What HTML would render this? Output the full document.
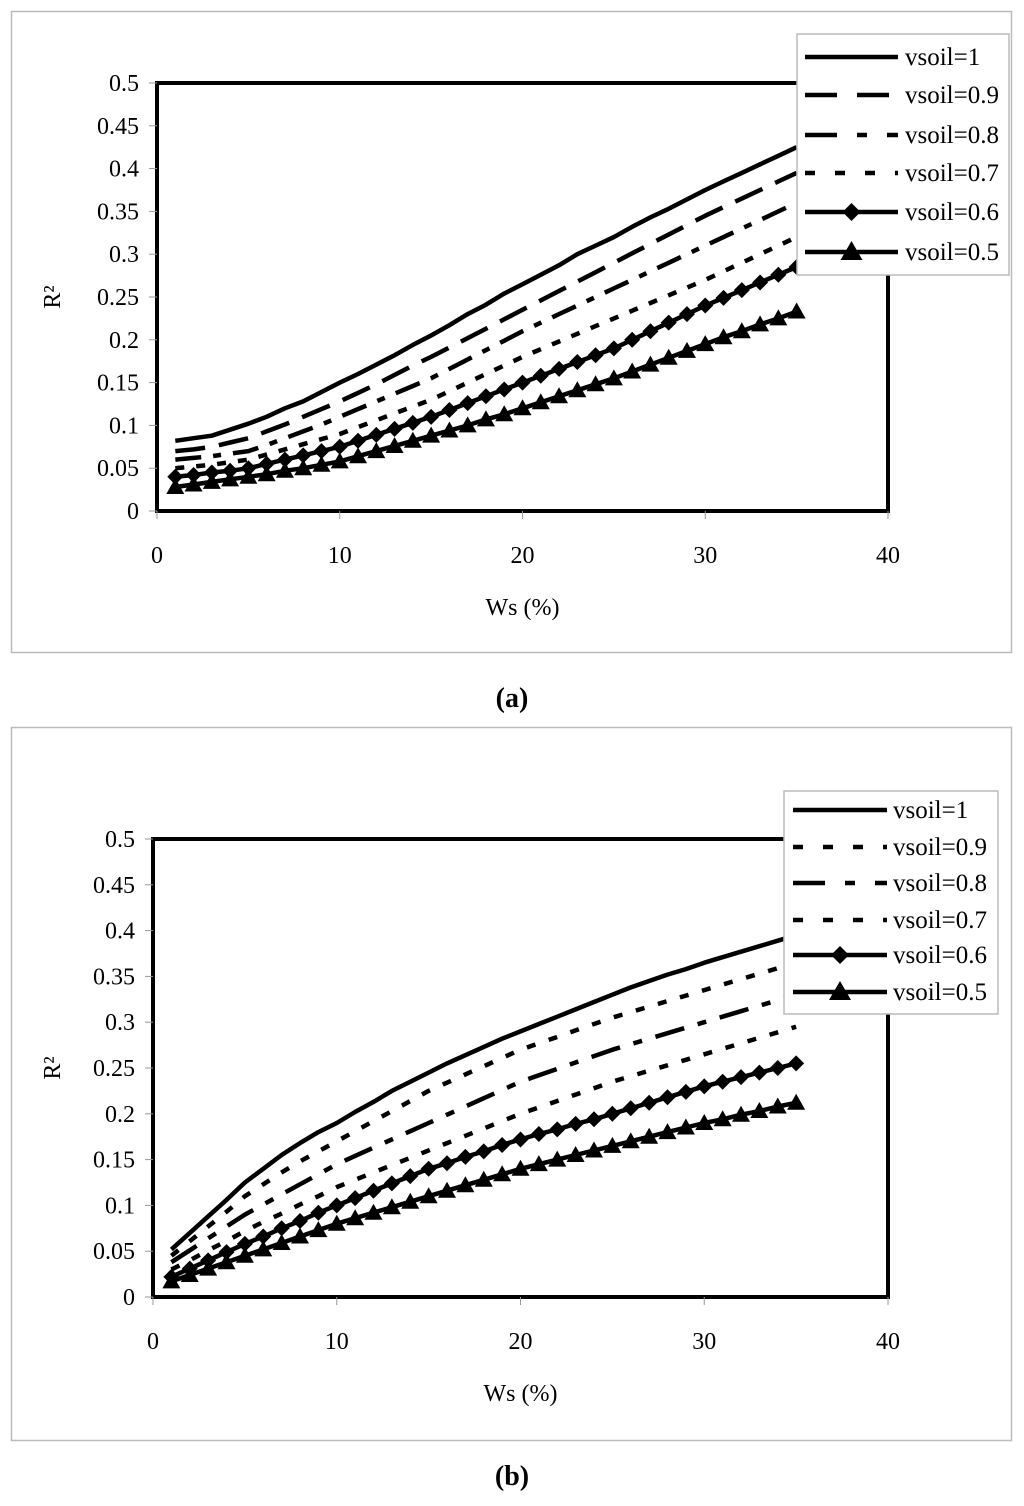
<!DOCTYPE html>
<html><head><meta charset="utf-8"><style>
body{margin:0;background:#fff;width:1024px;height:1506px;overflow:hidden}
svg{display:block;font-family:"Liberation Serif",serif}
</style></head><body>
<svg id="s" width="1024" height="1506" xmlns="http://www.w3.org/2000/svg"></svg>
<script>
const xs=[1,2,3,4,5,6,7,8,9,10,11,12,13,14,15,16,17,18,19,20,21,22,23,24,25,26,27,28,29,30,31,32,33,34,35];
const seriesNames=["vsoil=1","vsoil=0.9","vsoil=0.8","vsoil=0.7","vsoil=0.6","vsoil=0.5"];
const xTicks=[0,10,20,30,40];
const yTicks=[0,0.05,0.1,0.15,0.2,0.25,0.3,0.35,0.4,0.45,0.5];
const yTickLabels=["0","0.05","0.1","0.15","0.2","0.25","0.3","0.35","0.4","0.45","0.5"];
const a1=[0.082,0.085,0.088,0.095,0.102,0.11,0.12,0.128,0.139,0.15,0.16,0.171,0.182,0.194,0.205,0.217,0.23,0.241,0.254,0.265,0.276,0.287,0.3,0.31,0.32,0.332,0.343,0.353,0.364,0.375,0.385,0.395,0.405,0.415,0.425];
const a2=[0.07,0.072,0.075,0.08,0.085,0.093,0.101,0.11,0.119,0.128,0.138,0.148,0.159,0.17,0.18,0.191,0.202,0.213,0.224,0.235,0.246,0.257,0.268,0.279,0.29,0.301,0.312,0.323,0.334,0.345,0.355,0.365,0.375,0.385,0.395];
const a3=[0.06,0.062,0.064,0.067,0.07,0.077,0.085,0.093,0.101,0.11,0.119,0.128,0.137,0.146,0.155,0.166,0.177,0.188,0.199,0.21,0.22,0.23,0.24,0.25,0.26,0.27,0.28,0.29,0.3,0.31,0.32,0.33,0.34,0.35,0.36];
const a4=[0.05,0.052,0.054,0.057,0.06,0.066,0.072,0.078,0.084,0.09,0.098,0.106,0.114,0.122,0.13,0.14,0.15,0.16,0.17,0.18,0.189,0.198,0.207,0.216,0.225,0.234,0.243,0.252,0.261,0.27,0.28,0.29,0.3,0.31,0.32];
const a5=[0.04,0.042,0.045,0.047,0.05,0.055,0.06,0.065,0.07,0.075,0.082,0.089,0.096,0.103,0.11,0.118,0.126,0.134,0.142,0.15,0.158,0.166,0.174,0.182,0.19,0.2,0.21,0.22,0.23,0.24,0.249,0.258,0.267,0.276,0.285];
const a6=[0.028,0.031,0.034,0.037,0.04,0.043,0.047,0.05,0.054,0.058,0.064,0.07,0.076,0.082,0.088,0.094,0.1,0.107,0.113,0.12,0.127,0.134,0.141,0.148,0.155,0.163,0.171,0.179,0.187,0.195,0.203,0.21,0.218,0.225,0.233];
const b1=[0.052,0.07,0.088,0.106,0.125,0.14,0.155,0.168,0.18,0.19,0.202,0.213,0.225,0.235,0.245,0.255,0.264,0.273,0.282,0.29,0.298,0.306,0.314,0.322,0.33,0.338,0.345,0.352,0.358,0.365,0.371,0.377,0.383,0.389,0.395];
const b2=[0.045,0.061,0.077,0.093,0.11,0.123,0.136,0.148,0.159,0.17,0.181,0.192,0.203,0.214,0.225,0.234,0.243,0.252,0.261,0.27,0.277,0.284,0.291,0.298,0.305,0.311,0.317,0.323,0.329,0.335,0.341,0.347,0.353,0.359,0.365];
const b3=[0.038,0.051,0.064,0.077,0.09,0.101,0.112,0.123,0.134,0.145,0.154,0.163,0.172,0.181,0.19,0.199,0.208,0.217,0.226,0.235,0.242,0.249,0.256,0.263,0.27,0.276,0.282,0.288,0.294,0.3,0.306,0.312,0.318,0.324,0.33];
const b4=[0.03,0.04,0.051,0.061,0.072,0.082,0.091,0.101,0.11,0.12,0.128,0.136,0.144,0.152,0.16,0.168,0.176,0.184,0.192,0.2,0.207,0.214,0.221,0.228,0.235,0.241,0.247,0.253,0.259,0.265,0.271,0.277,0.283,0.289,0.295];
const b5=[0.022,0.031,0.04,0.049,0.058,0.066,0.075,0.083,0.092,0.1,0.108,0.116,0.124,0.132,0.14,0.146,0.153,0.159,0.166,0.172,0.178,0.183,0.189,0.194,0.2,0.206,0.212,0.218,0.224,0.23,0.235,0.24,0.245,0.25,0.255];
const b6=[0.017,0.024,0.031,0.038,0.045,0.052,0.059,0.066,0.073,0.08,0.086,0.092,0.098,0.104,0.11,0.116,0.122,0.128,0.134,0.14,0.145,0.15,0.155,0.16,0.165,0.17,0.175,0.18,0.185,0.19,0.194,0.199,0.203,0.208,0.212];

const NS="http://www.w3.org/2000/svg";
const svg=document.getElementById('s');
function mk(tag,attrs,parent){const e=document.createElementNS(NS,tag);for(const k in attrs)e.setAttribute(k,attrs[k]);(parent||svg).appendChild(e);return e;}

function chart(cfg){
  const g=mk('g',{});
  
  
  const X=v=>cfg.l+(v/40)*(cfg.r-cfg.l);
  const Y=v=>cfg.b-(v/0.5)*(cfg.b-cfg.t);
  const frame=mk('rect',{x:11.5,y:cfg.ft+0.5,width:1000,height:cfg.fb-cfg.ft,fill:'none',stroke:'#bbb','stroke-width':1.5},g);
  
  
  const pa=mk('rect',{x:cfg.l,y:cfg.t,width:cfg.r-cfg.l,height:cfg.b-cfg.t,fill:'none',stroke:'#000','stroke-width':4},g);
  
  
  yTicks.forEach((v,i)=>{
    mk('line',{x1:cfg.l-8,x2:cfg.l,y1:Y(v),y2:Y(v),stroke:'#999','stroke-width':1},g);
    const t=mk('text',{x:cfg.l-18,y:Y(v)+8,'text-anchor':'end','font-size':24},g);
    t.textContent=yTickLabels[i];
    
    
  });
  xTicks.forEach(v=>{
    mk('line',{x1:X(v),x2:X(v),y1:cfg.b,y2:cfg.b+8,stroke:'#999','stroke-width':1},g);
    const t=mk('text',{x:X(v),y:cfg.b+52,'text-anchor':'middle','font-size':24},g);
    t.textContent=String(v);
    
    
  });
  const xt=mk('text',{x:(cfg.l+cfg.r)/2,y:cfg.b+104,'text-anchor':'middle','font-size':24},g);
  xt.textContent='Ws (%)';
  
  
  const yc=(cfg.t+cfg.b)/2;
  const yt=mk('text',{x:60,y:yc,'text-anchor':'middle','font-size':24,transform:`rotate(-90 60 ${yc})`},g);
  yt.textContent='R²';
  
  
  cfg.series.forEach((vals,si)=>{
    const st=cfg.styles[si];
    const pts=xs.map((x,i)=>X(x).toFixed(1)+','+Y(vals[i]).toFixed(1)).join(' ');
    const pl=mk('polyline',{points:pts,fill:'none',stroke:'#000','stroke-width':4.5,'stroke-dasharray':st.dash||'none','stroke-linejoin':'round'},g);
    
    
    if(st.mark){
      xs.forEach((x,i)=>{
        const cx=X(x),cy=Y(vals[i]);
        const m=st.mark==='d'?mk('polygon',{points:`${cx},${cy-8} ${cx+8},${cy} ${cx},${cy+8} ${cx-8},${cy}`,fill:'#000'},g)
          :mk('polygon',{points:`${cx},${cy-9} ${cx+9},${cy+7} ${cx-9},${cy+7}`,fill:'#000'},g);
        
        
      });
    }
  });
  const lg=mk('g',{},g);
  
  
  const L=cfg.leg;
  mk('rect',{x:L.x,y:L.y,width:L.w,height:L.h,fill:'#fff',stroke:'#bbb','stroke-width':1.5},lg);
  seriesNames.forEach((n,i)=>{
    const ry=L.rows[i];const st=cfg.styles[i];
    mk('line',{x1:L.lx1,x2:L.lx2,y1:ry,y2:ry,stroke:'#000','stroke-width':4.5,'stroke-dasharray':st.ldash||st.dash||'none'},lg);
    const mx=(L.lx1+L.lx2)/2;
    if(st.mark==='d')mk('polygon',{points:`${mx},${ry-9} ${mx+9},${ry} ${mx},${ry+9} ${mx-9},${ry}`,fill:'#000'},lg);
    if(st.mark==='t')mk('polygon',{points:`${mx},${ry-11} ${mx+11},${ry+8} ${mx-11},${ry+8}`,fill:'#000'},lg);
    const t=mk('text',{x:L.tx,y:ry+8,'font-size':25},lg);
    t.textContent=n;
    
    
  });
  const cap=mk('text',{x:512,y:cfg.cap,'text-anchor':'middle','font-size':28,'font-weight':'bold'},g);
  cap.textContent=cfg.caption;
  
  
}

chart({name:'chart-a',l:157,r:888,t:83,b:511,ft:11,fb:652,cap:707,caption:'(a)',
  series:[a1,a2,a3,a4,a5,a6],
  styles:[{},{dash:'30 14',ldash:'32 20'},{dash:'26 12 8 12',ldash:'32 20 10 20'},{dash:'9 12',ldash:'10 20'},{mark:'d'},{mark:'t'}],
  leg:{x:797,y:34,w:212,h:241,rows:[57,95,135,173,212,252],lx1:805,lx2:898,tx:905}});
chart({name:'chart-b',l:153,r:888,t:839,b:1297,ft:727,fb:1440,cap:1485,caption:'(b)',
  series:[b1,b2,b3,b4,b5,b6],
  styles:[{},{dash:'9 14',ldash:'10 20'},{dash:'30 14 9 14',ldash:'32 20 10 20'},{dash:'9 14',ldash:'10 20'},{mark:'d'},{mark:'t'}],
  leg:{x:784,y:791,w:214,h:223,rows:[810,847,883,920,955,992],lx1:793,lx2:887,tx:893}});
</script>
</body></html>
